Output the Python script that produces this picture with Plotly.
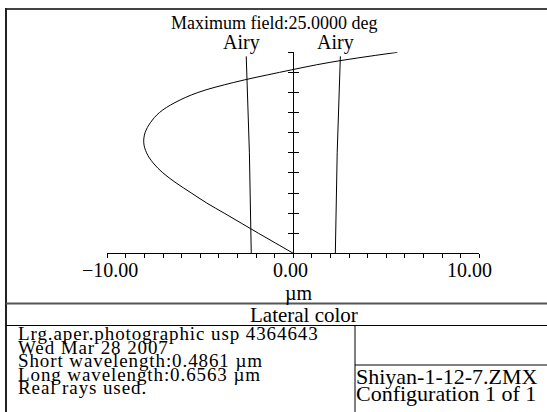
import plotly.graph_objects as go

# ---------------- data ----------------
field = [0.00, 0.05, 0.10, 0.15, 0.20, 0.25, 0.30, 0.35, 0.40, 0.45, 0.50,
         0.55, 0.60, 0.65, 0.70, 0.75, 0.80, 0.85, 0.90, 0.95, 1.00]
lateral_um = [0.00, -0.94, -1.88, -2.80, -3.72, -4.65, -5.48, -6.30, -7.01, -7.54, -7.89,
              -8.04, -7.97, -7.68, -7.20, -6.36, -5.13, -3.20, -0.75, 1.97, 5.60]
airy_field = [0.00, 0.50, 0.98]
airy_radius = [2.26, 2.36, 2.53]

x_tick_vals = list(range(-10, 11))
x_label_vals = [-10, 0, 10]
x_label_text = ["\u221210.00", "0.00", "10.00"]
y_tick_vals = [i / 10 for i in range(11)]

title_text = "Maximum field:25.0000 deg"
x_unit = "\u00b5m"
plot_name = "Lateral color"
info_lines = ["Lrg.aper.photographic usp 4364643", "Wed Mar 28 2007",
              "Short wavelength:0.4861 \u00b5m", "Long wavelength:0.6563 \u00b5m",
              "Real rays used."]
file_lines = ["Shiyan-1-12-7.ZMX", "Configuration 1 of 1"]

# ---------------- layout helpers ----------------
W, H = 547, 412
FONT = "Liberation Serif"


def px(x):
    return x / W


def py(y):
    return 1 - y / H


x_dom = [px(107.3), px(479.3)]
y_dom = [py(253.3), py(52.3)]
x_mid = (x_dom[0] + x_dom[1]) / 2

fig = go.Figure()

fig.add_trace(go.Scatter(x=lateral_um, y=field, mode="lines", line_shape="spline",
                         line=dict(color="black", width=1), showlegend=False,
                         hoverinfo="skip"))
fig.add_trace(go.Scatter(x=[-r for r in airy_radius], y=airy_field, mode="lines",
                         line=dict(color="black", width=1), showlegend=False,
                         hoverinfo="skip"))
fig.add_trace(go.Scatter(x=airy_radius, y=airy_field, mode="lines",
                         line=dict(color="black", width=1), showlegend=False,
                         hoverinfo="skip"))
# invisible trace on yaxis2 to activate the inside ticks
fig.add_trace(go.Scatter(x=[0], y=[0], yaxis="y2", mode="markers",
                         marker=dict(opacity=0), showlegend=False, hoverinfo="skip"))

fig.update_layout(
    template="none",
    width=W, height=H, autosize=False,
    margin=dict(l=0, r=0, t=0, b=0, pad=0),
    paper_bgcolor="white", plot_bgcolor="white",
    font=dict(family=FONT, color="black", size=20),
    xaxis=dict(domain=x_dom, range=[-10, 10], showgrid=False, automargin=False,
               zeroline=True, zerolinecolor="black", zerolinewidth=1,
               showline=True, linecolor="black", linewidth=1,
               ticks="outside", ticklen=4, tickwidth=1, tickcolor="black",
               tickvals=x_tick_vals, showticklabels=False,
               anchor="y", fixedrange=True),
    yaxis=dict(domain=y_dom, range=[0, 1], showgrid=False, zeroline=False,
               automargin=False,
               showline=False, anchor="free", position=x_mid, side="left",
               ticks="outside", ticklen=5, tickwidth=1, tickcolor="black",
               tickvals=y_tick_vals, showticklabels=False, fixedrange=True),
    yaxis2=dict(domain=y_dom, range=[0, 1], showgrid=False, zeroline=False,
                automargin=False,
                showline=False, anchor="free", position=x_mid, side="left",
                overlaying="y",
                ticks="inside", ticklen=5, tickwidth=1, tickcolor="black",
                tickvals=y_tick_vals, showticklabels=False, fixedrange=True),
)

ann = []
# x tick labels (placed as in the reference, slightly off-centre from their ticks)
for v, t, dx in zip(x_label_vals, x_label_text, [3, -3, -10]):
    ann.append(dict(text=t, x=v, y=py(269.5), xref="x", yref="paper",
                    xanchor="center", yanchor="middle", xshift=dx, showarrow=False,
                    font=dict(family=FONT, size=20)))
ann.append(dict(text=title_text, x=px(273.7), y=py(22.5), xref="paper", yref="paper",
                xanchor="center", yanchor="middle", showarrow=False,
                font=dict(family=FONT, size=18)))
for r in [-airy_radius[-1], airy_radius[-1]]:
    ann.append(dict(text="Airy", x=r, y=py(42.7), xref="x", yref="paper",
                    xanchor="center", yanchor="middle", xshift=-5, showarrow=False,
                    font=dict(family=FONT, size=20)))
ann.append(dict(text=x_unit, x=px(299), y=py(293), xref="paper", yref="paper",
                xanchor="center", yanchor="middle", showarrow=False,
                font=dict(family=FONT, size=20)))
ann.append(dict(text=plot_name, x=px(303.5), y=py(314.5), xref="paper", yref="paper",
                xanchor="center", yanchor="middle", showarrow=False,
                font=dict(family=FONT, size=21)))
for i, t in enumerate(info_lines):
    ann.append(dict(text='<span style="letter-spacing:0.9px">' + t + '</span>',
                    x=px(16), y=py(333.8 + 13.4 * i), xref="paper", yref="paper",
                    xanchor="left", yanchor="middle", showarrow=False,
                    font=dict(family=FONT, size=19)))
for i, t in enumerate(file_lines):
    ann.append(dict(text=t, x=px(354), y=py(376.3 + 17 * i), xref="paper", yref="paper",
                    xanchor="left", yanchor="middle", showarrow=False,
                    font=dict(family=FONT, size=22)))
fig.update_layout(annotations=ann)

shapes = []


def hline(y, x0, x1, w=1, c="black"):
    shapes.append(dict(type="line", xref="paper", yref="paper", x0=px(x0), x1=px(x1),
                       y0=py(y), y1=py(y), line=dict(color=c, width=w)))


def vline(x, y0, y1, w=1, c="black"):
    shapes.append(dict(type="line", xref="paper", yref="paper", x0=px(x), x1=px(x),
                       y0=py(y0), y1=py(y1), line=dict(color=c, width=w)))


hline(9, 5, 547, 2, "#444444")
vline(6, 8, 412, 2, "#222222")
hline(303.5, 6, 547, 2, "#555555")
hline(325.5, 6, 547, 1, "black")
vline(355, 325.5, 412, 1, "black")
hline(365, 355, 547, 1, "black")
fig.update_layout(shapes=shapes)

fig.write_html("out.html", config={"displayModeBar": False, "staticPlot": True},
               post_script="document.body.style.margin='0';"
                           "document.body.style.overflow='hidden';")
